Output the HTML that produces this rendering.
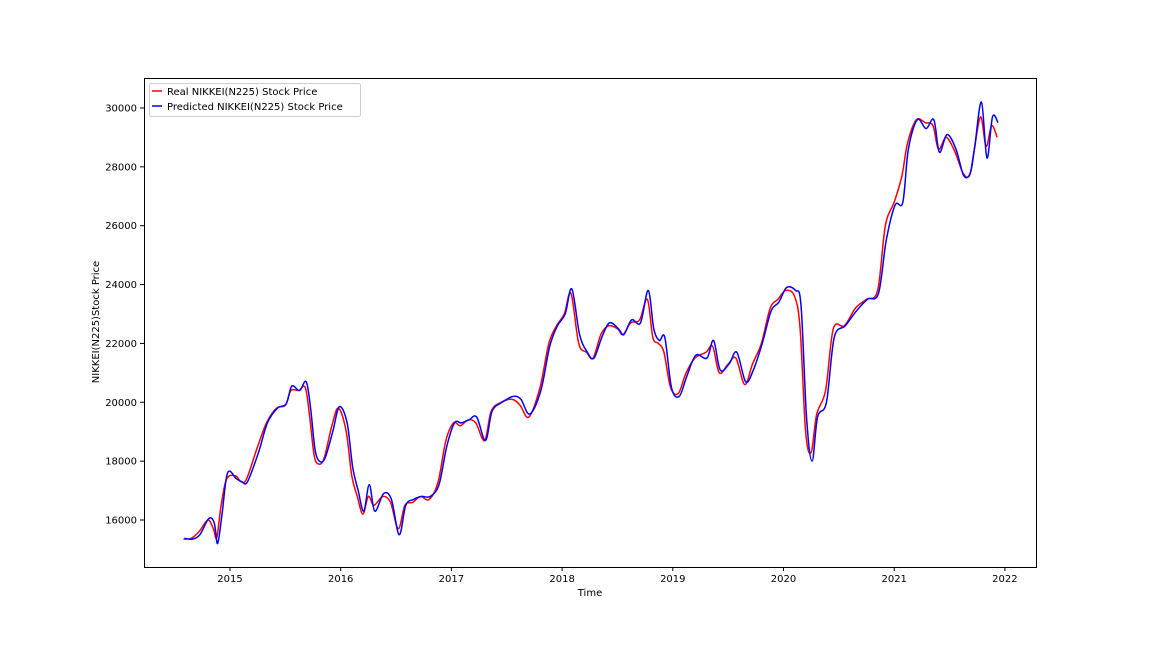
<!DOCTYPE html>
<html><head><meta charset="utf-8"><style>
body{margin:0;background:#fff;}
svg text{font-family:"DejaVu Sans","Liberation Sans",sans-serif;font-size:10px;fill:#000;}
</style></head><body>
<svg id="chart" width="1152" height="648">
<rect x="0" y="0" width="1152" height="648" fill="#fff"/>
<g id="ticks"></g>
<path id="real" fill="none" stroke="#ff0000" stroke-width="1.5"/>
<path id="pred" fill="none" stroke="#0000ff" stroke-width="1.5"/>
<rect x="144.5" y="78.5" width="892" height="489" fill="none" stroke="#000" stroke-width="1"/>
<text x="590" y="596" text-anchor="middle">Time</text>
<text transform="translate(99,322) rotate(-90)" text-anchor="middle">NIKKEI(N225)Stock Price</text>
<g>
<rect x="149.5" y="83.5" width="211" height="33" rx="2" fill="#fff" stroke="#ccc"/>
<line x1="152" y1="91" x2="162" y2="91" stroke="#ff0000" stroke-width="1.5"/>
<text x="167" y="95">Real NIKKEI(N225) Stock Price</text>
<line x1="152" y1="106" x2="162" y2="106" stroke="#0000ff" stroke-width="1.5"/>
<text x="167" y="110">Predicted NIKKEI(N225) Stock Price</text>
</g>
</svg>
<script>
const times=[2014.58,2014.65,2014.72,2014.80,2014.85,2014.88,2014.92,2014.97,2015.05,2015.10,2015.15,2015.25,2015.33,2015.42,2015.50,2015.55,2015.62,2015.68,2015.72,2015.76,2015.80,2015.85,2015.92,2015.98,2016.05,2016.10,2016.15,2016.20,2016.25,2016.30,2016.38,2016.45,2016.52,2016.58,2016.65,2016.72,2016.80,2016.88,2016.95,2017.02,2017.08,2017.15,2017.22,2017.30,2017.36,2017.45,2017.55,2017.62,2017.70,2017.80,2017.88,2017.95,2018.02,2018.08,2018.15,2018.22,2018.28,2018.35,2018.42,2018.50,2018.55,2018.62,2018.70,2018.77,2018.82,2018.87,2018.92,2018.98,2019.05,2019.12,2019.20,2019.30,2019.36,2019.42,2019.50,2019.57,2019.65,2019.72,2019.80,2019.88,2019.95,2020.02,2020.10,2020.15,2020.20,2020.25,2020.30,2020.38,2020.45,2020.55,2020.65,2020.75,2020.85,2020.92,2021.00,2021.07,2021.12,2021.20,2021.28,2021.35,2021.40,2021.47,2021.55,2021.62,2021.68,2021.72,2021.78,2021.83,2021.88,2021.93];
const realValues=[15350,15380,15600,16000,15700,15400,16500,17400,17500,17300,17400,18500,19300,19800,19900,20400,20400,20500,19500,18200,17900,18100,19200,19800,19000,17500,16800,16200,16800,16500,16800,16600,15700,16500,16600,16800,16700,17300,18700,19300,19200,19400,19300,18700,19700,20000,20100,19900,19500,20500,22000,22600,23000,23700,22000,21700,21500,22300,22600,22500,22300,22700,22800,23500,22200,22000,21700,20500,20300,21000,21500,21700,21900,21000,21300,21500,20600,21300,22000,23200,23500,23800,23600,22500,19000,18300,19600,20400,22500,22600,23200,23500,23800,26000,26800,27700,28800,29600,29500,29400,28600,29000,28500,27800,27700,28500,29700,28700,29400,29000];
const predValues=[15380,15350,15500,16050,15900,15200,16200,17600,17400,17300,17300,18300,19300,19800,19950,20550,20400,20700,19800,18400,18000,18100,19000,19850,19300,17800,17000,16300,17200,16300,16900,16700,15500,16500,16700,16800,16800,17200,18500,19300,19300,19400,19500,18700,19700,20000,20200,20100,19600,20400,21900,22600,23000,23850,22300,21700,21500,22200,22700,22500,22300,22800,22700,23800,22500,22100,22200,20500,20200,20900,21600,21500,22100,21100,21300,21700,20700,21100,22000,23100,23400,23900,23800,23300,19500,18000,19500,20000,22200,22600,23100,23500,23700,25500,26700,26800,28600,29600,29300,29600,28500,29100,28600,27700,27800,28700,30200,28300,29700,29500];
const yTicks=[16000,18000,20000,22000,24000,26000,28000,30000];
const xTicks=[2015,2016,2017,2018,2019,2020,2021,2022];
function xs(t){return 230+(t-2015)*110.7;}
function ys(v){return 520-(v-16000)*0.02943;}
function smooth(pts){
  let d='M'+pts[0][0]+','+pts[0][1];
  for(let i=0;i<pts.length-1;i++){
    const p0=pts[Math.max(0,i-1)],p1=pts[i],p2=pts[i+1],p3=pts[Math.min(pts.length-1,i+2)];
    const k=1/6;
    d+=' C'+(p1[0]+(p2[0]-p0[0])*k)+','+(p1[1]+(p2[1]-p0[1])*k)+' '+(p2[0]-(p3[0]-p1[0])*k)+','+(p2[1]-(p3[1]-p1[1])*k)+' '+p2[0]+','+p2[1];
  }
  return d;
}
const ns="http://www.w3.org/2000/svg";
const g=document.getElementById('ticks');
yTicks.forEach(v=>{
  const l=document.createElementNS(ns,'line');
  l.setAttribute('x1',140);l.setAttribute('x2',144);l.setAttribute('y1',ys(v));l.setAttribute('y2',ys(v));l.setAttribute('stroke','#000');
  
  
  g.appendChild(l);
  const t=document.createElementNS(ns,'text');
  t.setAttribute('x',137);t.setAttribute('y',ys(v)+3.5);t.setAttribute('text-anchor','end');t.textContent=v;
  
  
  g.appendChild(t);
});
xTicks.forEach(v=>{
  const l=document.createElementNS(ns,'line');
  l.setAttribute('x1',xs(v));l.setAttribute('x2',xs(v));l.setAttribute('y1',567);l.setAttribute('y2',571);l.setAttribute('stroke','#000');
  
  
  g.appendChild(l);
  const t=document.createElementNS(ns,'text');
  t.setAttribute('x',xs(v));t.setAttribute('y',582);t.setAttribute('text-anchor','middle');t.textContent=v;
  
  
  g.appendChild(t);
});
document.getElementById('real').setAttribute('d',smooth(times.map((t,i)=>[xs(t),ys(realValues[i])])));
document.getElementById('pred').setAttribute('d',smooth(times.map((t,i)=>[xs(t+0.008),ys(predValues[i])])));
</script>
</body></html>
